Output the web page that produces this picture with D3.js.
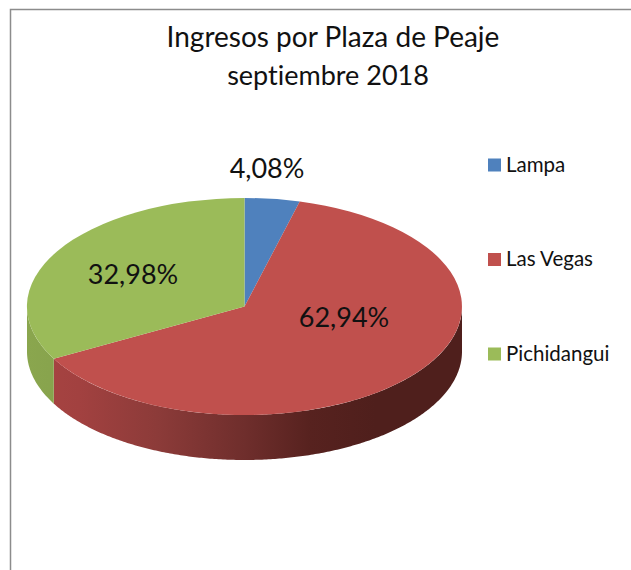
<!DOCTYPE html>
<html><head><meta charset="utf-8">
<script src="https://cdnjs.cloudflare.com/ajax/libs/d3/7.8.5/d3.min.js"></script>
<style>html,body{margin:0;padding:0;background:#fff}svg{display:block}text{font-family:Lato,"Open Sans",sans-serif;fill:#111;font-variant-ligatures:none}</style>
</head><body><div id="c"></div>
<script>
const categories=["Lampa","Las Vegas","Pichidangui"];
const values=[4.08,62.94,32.98];
const labels=["4,08%","62,94%","32,98%"];
const colors=["#4f81bd","#c0504d","#9bbb59"];
const titleLines=["Ingresos por Plaza de Peaje","septiembre 2018"];

const W=631,H=570,cx=244.5,cy=306.5,rx=217.5,ry=108.5,depth=45;
const svg=d3.select("#c").append("svg").attr("width",W).attr("height",H);
const defs=svg.append("defs");
const xs=d3.scaleLinear().domain([-1,1]).range([cx-rx,cx+rx]);

const redGrad=defs.append("linearGradient").attr("id","gRed").attr("gradientUnits","userSpaceOnUse")
 .attr("x1",xs(-1)).attr("x2",xs(1)).attr("y1",0).attr("y2",0);
[[0,"#a84442"],[0.12,"#a24140"],[0.3,"#8c3b39"],[0.5,"#6f2e2c"],[0.65,"#57221f"],[0.8,"#4f1f1c"],[1,"#4f1f1c"]]
 .forEach(s=>redGrad.append("stop").attr("offset",s[0]).attr("stop-color",s[1]));
const greenGrad=defs.append("linearGradient").attr("id","gGreen").attr("gradientUnits","userSpaceOnUse")
 .attr("x1",xs(-1)).attr("x2",xs(-0.8)).attr("y1",0).attr("y2",0);
[[0,"#8aa64e"],[1,"#86a24c"]].forEach(s=>greenGrad.append("stop").attr("offset",s[0]).attr("stop-color",s[1]));
const sideFill=["#3e6797","url(#gRed)","url(#gGreen)"];

// frame
svg.append("path").attr("d",d3.line()([[10.5,H],[10.5,9.5],[W,9.5]])).attr("fill","none").attr("stroke","#8c8c8c").attr("stroke-width",1.5);

const arcs=d3.pie().sort(null)(values);
const pt=(a,dy=0)=>[cx+rx*Math.sin(a),cy-ry*Math.cos(a)+dy];

// side wall: visible only where the angle is on the front half
arcs.forEach((d,i)=>{
  const a0=Math.max(d.startAngle,Math.PI/2),a1=Math.min(d.endAngle,Math.PI*1.5);
  if(a1<=a0)return;
  const n=d3.range(a0,a1,0.01).concat([a1]);
  const top=n.map(a=>pt(a)),bot=n.map(a=>pt(a,depth)).reverse();
  svg.append("path").attr("d",d3.line()(top.concat(bot))+"Z").attr("fill",sideFill[i]);
});

// top faces, unit-circle arcs squashed into the ellipse
const arc=d3.arc().innerRadius(0).outerRadius(1);
svg.append("g").attr("transform",`translate(${cx},${cy}) scale(${rx},${ry})`)
 .selectAll("path").data(arcs).join("path").attr("d",arc).attr("fill",(d,i)=>colors[i]);

// title
svg.append("g").selectAll("text").data(titleLines).join("text")
 .attr("x",(d,i)=>i?328:333).attr("y",(d,i)=>47+i*37.5).attr("text-anchor","middle").attr("font-size",(d,i)=>i?27:28).text(d=>d);

// data labels
const labelPos=[[267,178],[344,327],[133,284]];
svg.append("g").selectAll("text").data(labels).join("text")
 .attr("x",(d,i)=>labelPos[i][0]).attr("y",(d,i)=>labelPos[i][1]).attr("text-anchor","middle").attr("font-size",27).text(d=>d);

// legend
const ly=d3.scalePoint().domain(categories).range([165,354]);
const leg=svg.append("g").selectAll("g").data(categories).join("g").attr("transform",d=>`translate(488,${ly(d)})`);
leg.append("rect").attr("x",0).attr("y",-6.5).attr("width",13).attr("height",13).attr("fill",(d,i)=>colors[i]);
leg.append("text").attr("x",18).attr("y",6.5).attr("font-size",20.5).text(d=>d);
</script></body></html>
